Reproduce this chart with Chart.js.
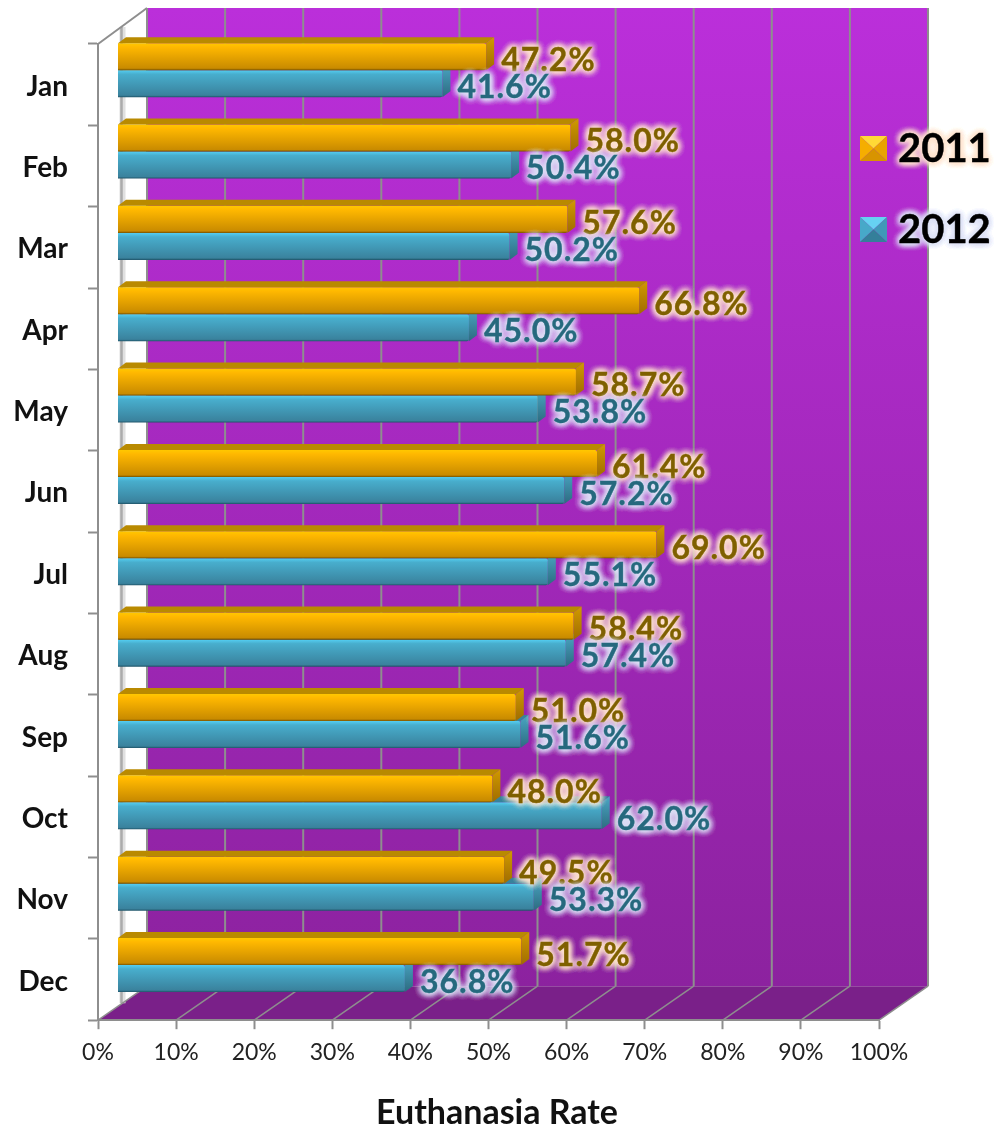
<!DOCTYPE html>
<html>
<head>
<meta charset="utf-8">
<title>Euthanasia Rate</title>
<script src="https://cdn.jsdelivr.net/npm/chart.js@4/dist/chart.umd.js"></script>
<style>
  html, body { margin: 0; padding: 0; background: #fff; }
  canvas { display: block; }
</style>
</head>
<body>
<canvas id="rateChart" width="994" height="1125"></canvas>
<script>
const months = ['Jan', 'Feb', 'Mar', 'Apr', 'May', 'Jun', 'Jul', 'Aug', 'Sep', 'Oct', 'Nov', 'Dec'];
const rate2011 = [47.2, 58.0, 57.6, 66.8, 58.7, 61.4, 69.0, 58.4, 51.0, 48.0, 49.5, 51.7];
const rate2012 = [41.6, 50.4, 50.2, 45.0, 53.8, 57.2, 55.1, 57.4, 51.6, 62.0, 53.3, 36.8];
const percentTicks = [0, 10, 20, 30, 40, 50, 60, 70, 80, 90, 100];

const FONT = 'Lato, "Open Sans", sans-serif';
const GREY = '#8e8e8e';
const WALL_DEPTH = { x: 49, y: -34 };   // how far the back wall sits behind the axes
const WALL_EXTRA_TOP = 2;
const BAR_SHIFT = { x: 19.5, y: -14.5 };  // bars stand part way into the box
const CAP = { x: 8, y: -6 };            // visible top and end of each bar
const CAT_SHARE = 0.664;

const looks = [
  {
    stops: ['#ffc800', '#ffb800', '#c98b00', '#7a5400'],
    top: '#b98a00', side: ['#d09a00', '#a06c00'], text: '#7f6000', glow: '#ffe4cf',
    bevel: ['#ffd936', '#f5ae00', '#e8a400', '#d89400']
  },
  {
    stops: ['#54cef2', '#48aecd', '#3a829d', '#1f5468'],
    top: '#38829c', side: ['#4aa6c4', '#2d6b80'], text: '#26697e', glow: '#dde2f6',
    bevel: ['#66d2f2', '#47a9c9', '#4099b8', '#347f9a']
  }
];

// vertical shading of a bar face, worked out from the category scale
function faceGradient(seriesIndex) {
  return (c) => {
    const s = looks[seriesIndex].stops;
    const y = c.chart.scales.y;
    const mid = y.getPixelForValue(c.dataIndex);
    if (!isFinite(mid) || !y.height) return s[1];  // scales not laid out yet
    const h = y.height / months.length * CAT_SHARE / 2;
    const top = seriesIndex === 0 ? mid - h : mid;
    const g = c.chart.ctx.createLinearGradient(0, top, 0, top + h);
    g.addColorStop(0, s[0]);
    g.addColorStop(0.15, s[1]);
    g.addColorStop(0.93, s[2]);
    g.addColorStop(1, s[3]);
    return g;
  };
}

function polygon(ctx, pts, fill) {
  ctx.beginPath();
  pts.forEach((p, i) => (i ? ctx.lineTo(p[0], p[1]) : ctx.moveTo(p[0], p[1])));
  ctx.closePath();
  ctx.fillStyle = fill;
  ctx.fill();
}

function segment(ctx, x1, y1, x2, y2, color, width) {
  ctx.beginPath();
  ctx.moveTo(x1, y1);
  ctx.lineTo(x2, y2);
  ctx.strokeStyle = color;
  ctx.lineWidth = width;
  ctx.stroke();
}

function glowText(ctx, text, x, y, color, glow, blur) {
  ctx.save();
  ctx.shadowColor = glow;
  ctx.shadowBlur = blur;
  ctx.fillStyle = glow;
  for (let i = 0; i < 6; i++) ctx.fillText(text, x, y);
  ctx.shadowBlur = 0;
  ctx.fillStyle = color;
  ctx.strokeStyle = color;
  ctx.lineWidth = 0.4;
  ctx.strokeText(text, x, y);
  ctx.fillText(text, x, y);
  ctx.restore();
}

const box3d = {
  id: 'box3d',
  // walls and floor go under the axes
  beforeDraw(chart) {
    const { ctx, chartArea: a, scales } = chart;
    const dx = WALL_DEPTH.x, dy = WALL_DEPTH.y;
    const wallTop = a.top + dy - WALL_EXTRA_TOP;
    ctx.save();

    const wall = ctx.createLinearGradient(0, wallTop, 0, a.bottom + dy);
    wall.addColorStop(0, '#bb2fda');
    wall.addColorStop(1, '#8c229f');
    ctx.fillStyle = wall;
    ctx.fillRect(a.left + dx, wallTop, a.width, a.bottom + dy - wallTop);

    polygon(ctx, [[a.left, a.bottom], [a.left + dx, a.bottom + dy], [a.right + dx, a.bottom + dy], [a.right, a.bottom]], '#7a2089');

    // grey rail on the white side wall
    segment(ctx, a.left + 24.5, a.top - 17, a.left + 24.5, a.bottom - 17, '#e0e0e0', 6);
    segment(ctx, a.left + 23.5, a.top - 17, a.left + 23.5, a.bottom - 17, '#ababab', 2.5);
    segment(ctx, a.left, a.top, a.left + dx, wallTop, GREY, 2);

    percentTicks.forEach((v) => {
      const x = scales.x.getPixelForValue(v);
      segment(ctx, x, a.bottom, x + dx, a.bottom + dy, GREY, 1.5);
      segment(ctx, x + dx, a.bottom + dy, x + dx, wallTop, GREY, 2);
    });
    ctx.restore();
  },
  // bars are pushed into the box while they are painted
  beforeDatasetDraw(chart) {
    chart.ctx.save();
    chart.ctx.translate(BAR_SHIFT.x, BAR_SHIFT.y);
  },
  afterDatasetDraw(chart, args) {
    const ctx = chart.ctx;
    const look = looks[args.index];
    chart.getDatasetMeta(args.index).data.forEach((bar) => {
      const top = bar.y - bar.height / 2, bottom = bar.y + bar.height / 2;
      polygon(ctx, [[bar.base, top], [bar.base + CAP.x, top + CAP.y], [bar.x + CAP.x, top + CAP.y], [bar.x, top]], look.top);
      const side = ctx.createLinearGradient(0, top + CAP.y, 0, bottom);
      side.addColorStop(0, look.side[0]);
      side.addColorStop(1, look.side[1]);
      polygon(ctx, [[bar.x, top], [bar.x + CAP.x, top + CAP.y], [bar.x + CAP.x, bottom + CAP.y], [bar.x, bottom]], side);
    });
    ctx.restore();
  },
  afterDatasetsDraw(chart) {
    const ctx = chart.ctx;
    ctx.save();
    ctx.textBaseline = 'middle';
    ctx.textAlign = 'left';

    // value labels
    ctx.font = 'bold 32px ' + FONT;
    ctx.letterSpacing = '1px';
    chart.data.datasets.forEach((ds, i) => {
      chart.getDatasetMeta(i).data.forEach((bar, j) => {
        const label = ds.data[j].toFixed(1) + '%';
        glowText(ctx, label, bar.x + BAR_SHIFT.x + 15, bar.y + BAR_SHIFT.y + 4, looks[i].text, looks[i].glow, 7);
      });
    });
    ctx.letterSpacing = '0px';

    // legend
    ctx.font = 'bold 40px ' + FONT;
    chart.data.datasets.forEach((ds, i) => {
      const bx = 860, by = 136 + i * 81, w = 27, h = 25, b = looks[i].bevel;
      const mx = bx + w / 2, my = by + h / 2;
      polygon(ctx, [[bx, by], [bx + w, by], [mx, my]], b[0]);
      polygon(ctx, [[bx, by], [mx, my], [bx, by + h]], b[1]);
      polygon(ctx, [[bx + w, by], [mx, my], [bx + w, by + h]], b[2]);
      polygon(ctx, [[bx, by + h], [mx, my], [bx + w, by + h]], b[3]);
      glowText(ctx, ds.label, 898, my + 1, '#000', looks[i].glow, 7);
    });
    ctx.restore();
  }
};

new Chart(document.getElementById('rateChart'), {
  type: 'bar',
  data: {
    labels: months,
    datasets: [
      { label: '2011', data: rate2011, backgroundColor: faceGradient(0), clip: false, borderRadius: 2 },
      { label: '2012', data: rate2012, backgroundColor: faceGradient(1), clip: false, borderRadius: 2 }
    ]
  },
  options: {
    indexAxis: 'y',
    responsive: false,
    animation: false,
    categoryPercentage: CAT_SHARE,
    barPercentage: 1,
    layout: { padding: { top: 44, left: 0, right: 0, bottom: 0 } },
    plugins: {
      legend: { display: false },
      tooltip: { enabled: false },
      title: {
        display: true,
        position: 'bottom',
        text: 'Euthanasia Rate',
        color: '#111',
        font: { family: FONT, size: 34, weight: 'bold', lineHeight: 0.7 },
        padding: { top: 10, bottom: 0 }
      }
    },
    scales: {
      x: {
        min: 0,
        max: 100,
        afterBuildTicks: (s) => { s.ticks = percentTicks.map((v) => ({ value: v })); },
        afterFit: (s) => { s.height = 71; },
        grid: { drawOnChartArea: false, tickLength: 9, tickColor: GREY, tickWidth: 2 },
        border: { color: GREY, width: 2 },
        ticks: {
          color: '#222',
          padding: 10,
          maxRotation: 0,
          font: { family: FONT, size: 23 },
          callback: (v) => v + '%'
        }
      },
      y: {
        afterFit: (s) => { s.width = 98; },
        grid: { drawOnChartArea: false, tickLength: 10, tickColor: GREY, tickWidth: 2 },
        border: { color: GREY, width: 2 },
        ticks: {
          color: '#111',
          padding: 20,
          labelOffset: 2,
          font: { family: FONT, size: 28, weight: 'bold' }
        }
      },
      // empty axis, only reserves the room right of the front plane
      spacer: {
        type: 'category',
        axis: 'y',
        position: 'right',
        afterFit: (s) => { s.width = 115; },
        grid: { display: false },
        border: { display: false },
        ticks: { display: false }
      }
    }
  },
  plugins: [box3d]
});
</script>
</body>
</html>
